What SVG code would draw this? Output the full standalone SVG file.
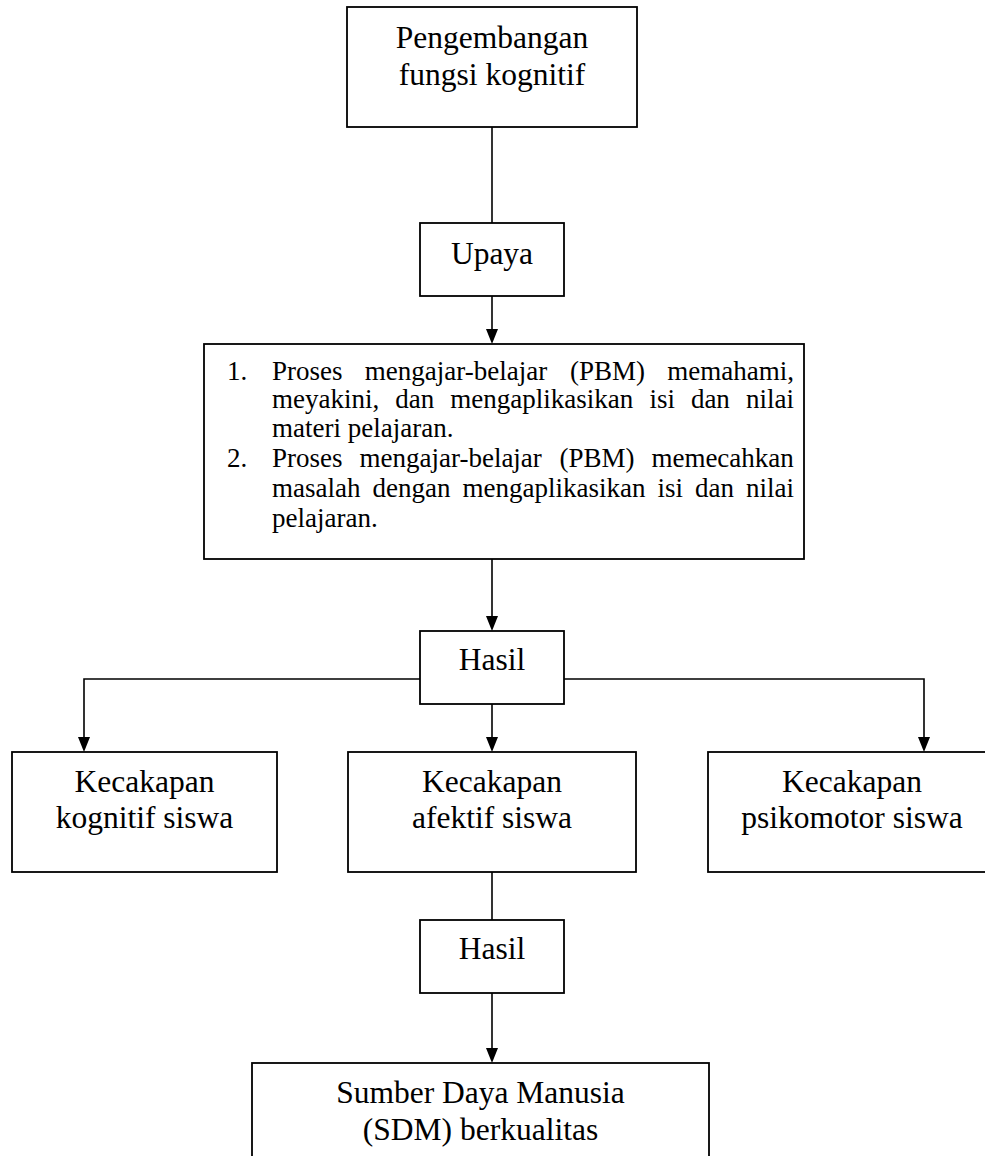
<svg xmlns="http://www.w3.org/2000/svg" width="985" height="1156" viewBox="0 0 985 1156">
<style>
.box{fill:#fff;stroke:#000;stroke-width:1.8}
.t{font-family:"Liberation Serif","Times New Roman",serif;font-size:31.5px;fill:#000;text-anchor:middle}
.s{font-family:"Liberation Serif","Times New Roman",serif;font-size:27px;fill:#000}
.c{fill:none;stroke:#000;stroke-width:1.6}
.ah{fill:#000}
</style>
<rect width="985" height="1156" fill="#fff"/>
<g id="connectors">
<path class="c" d="M492,127 V223"/>
<path class="c" d="M492,296 V330"/>
<path class="ah" d="M486,329 L498,329 L492,344 z"/>
<path class="c" d="M492,559 V617"/>
<path class="ah" d="M486,616 L498,616 L492,631 z"/>
<path class="c" d="M420,679 H84 V738"/>
<path class="ah" d="M78,737 L90,737 L84,752 z"/>
<path class="c" d="M492,704 V738"/>
<path class="ah" d="M486,737 L498,737 L492,752 z"/>
<path class="c" d="M564,679 H924 V738"/>
<path class="ah" d="M918,737 L930,737 L924,752 z"/>
<path class="c" d="M492,872 V920"/>
<path class="c" d="M492,993 V1049"/>
<path class="ah" d="M486,1048 L498,1048 L492,1063 z"/>
</g>
<g id="n1">
<rect class="box" x="347" y="7" width="290" height="120"/>
<text class="t" x="492" y="48">Pengembangan</text>
<text class="t" x="492" y="85">fungsi kognitif</text>
</g>
<g id="n2">
<rect class="box" x="420" y="223" width="144" height="73"/>
<text class="t" x="492" y="264">Upaya</text>
</g>
<g id="n3">
<rect class="box" x="204" y="344" width="600" height="215"/>
<text class="s" y="380"><tspan x="227">1.</tspan><tspan x="272">Proses</tspan><tspan x="364.8">mengajar-belajar</tspan><tspan x="570">(PBM)</tspan><tspan x="667.3">memahami,</tspan></text>
<text class="s" y="408"><tspan x="272">meyakini,</tspan><tspan x="395.3">dan</tspan><tspan x="450.3">mengaplikasikan</tspan><tspan x="649.4">isi</tspan><tspan x="690.9">dan</tspan><tspan x="746">nilai</tspan></text>
<text class="s" x="272" y="437">materi pelajaran.</text>
<text class="s" y="467"><tspan x="227">2.</tspan><tspan x="272">Proses</tspan><tspan x="359.5">mengajar-belajar</tspan><tspan x="559.4">(PBM)</tspan><tspan x="651.4">memecahkan</tspan></text>
<text class="s" y="497"><tspan x="272">masalah</tspan><tspan x="372.5">dengan</tspan><tspan x="462.5">mengaplikasikan</tspan><tspan x="657.5">isi</tspan><tspan x="695">dan</tspan><tspan x="746">nilai</tspan></text>
<text class="s" x="272" y="527">pelajaran.</text>
</g>
<g id="n4">
<rect class="box" x="420" y="631" width="144" height="73"/>
<text class="t" x="492" y="670">Hasil</text>
</g>
<g id="n5">
<rect class="box" x="12" y="752" width="265" height="120"/>
<text class="t" x="144.5" y="792">Kecakapan</text>
<text class="t" x="144.5" y="828">kognitif siswa</text>
</g>
<g id="n6">
<rect class="box" x="348" y="752" width="288" height="120"/>
<text class="t" x="492" y="792">Kecakapan</text>
<text class="t" x="492" y="828">afektif siswa</text>
</g>
<g id="n7">
<rect class="box" x="708" y="752" width="290" height="120"/>
<text class="t" x="852" y="792">Kecakapan</text>
<text class="t" x="852" y="828">psikomotor siswa</text>
</g>
<g id="n8">
<rect class="box" x="420" y="920" width="144" height="73"/>
<text class="t" x="492" y="959">Hasil</text>
</g>
<g id="n9">
<rect class="box" x="252" y="1063" width="457" height="110"/>
<text class="t" x="480.5" y="1103">Sumber Daya Manusia</text>
<text class="t" x="480.5" y="1140">(SDM) berkualitas</text>
</g>
</svg>
